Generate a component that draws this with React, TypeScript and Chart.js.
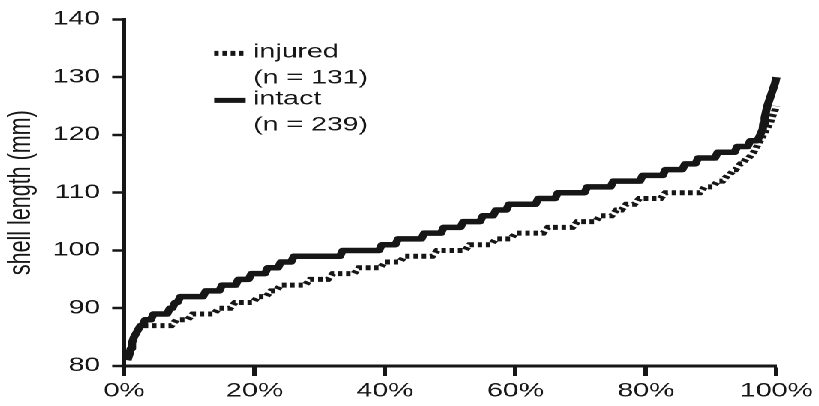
import React, { useEffect, useRef } from 'react';
import { Chart, registerables } from 'chart.js';

Chart.register(...registerables);

// Percentile (x, %) at which each shell length (mm) is first reached
const intactPct = [0.5, 0.8, 1.0, 1.2, 1.5, 2.0, 2.5, 3.2, 4.5, 7.0, 7.8, 8.6, 12.5, 15.0, 17.5, 19.5, 22.0, 24.0, 26.0, 33.5, 39.5, 42.0, 46.0, 49.0, 52.0, 55.0, 57.0, 59.0, 63.5, 66.5, 71.0, 75.0, 79.5, 83.0, 86.0, 88.0, 91.0, 94.0, 96.0, 97.5, 97.9, 98.0, 98.2, 98.4, 98.6, 98.9, 99.2, 99.5, 99.8, 100];
const intactMm = [81, 82, 83, 84, 85, 86, 87, 88, 89, 90, 91, 92, 93, 94, 95, 96, 97, 98, 99, 100, 101, 102, 103, 104, 105, 106, 107, 108, 109, 110, 111, 112, 113, 114, 115, 116, 117, 118, 119, 120, 121, 122, 123, 124, 125, 126, 127, 128, 129, 130];

const injuredPct = [3.0, 8.0, 10.5, 14.5, 17.0, 20.5, 22.5, 24.0, 28.5, 32.0, 36.0, 40.0, 43.0, 48.0, 53.0, 57.0, 60.0, 65.0, 69.5, 73.0, 75.5, 77.0, 79.0, 83.0, 89.0, 91.0, 92.5, 93.5, 94.5, 95.5, 96.5, 97.0, 97.5, 98.0, 98.5, 99.0, 99.3, 99.7, 100];
const injuredMm = [87, 88, 89, 90, 91, 92, 93, 94, 95, 96, 97, 98, 99, 100, 101, 102, 103, 104, 105, 106, 107, 108, 109, 110, 111, 112, 113, 114, 115, 116, 117, 118, 119, 120, 121, 122, 123, 124, 125];

// one specimen's share of the percentile axis (100 / n)
const intactShare = 100 / 239;
const injuredShare = 100 / 131;

const xTickValues = [0, 20, 40, 60, 80, 100];
const yTickValues = [80, 90, 100, 110, 120, 130, 140];

const legendItems = [
  { name: 'injured', count: '(n = 131)', dashed: true },
  { name: 'intact', count: '(n = 239)', dashed: false },
];

const FONT = 'Liberation Sans, Arial, sans-serif';
const INK = '#161616';

// each level stays flat until the specimen just before the next level
function toPoints(pct: number[], mm: number[], share: number) {
  const pts: { x: number; y: number }[] = [];
  pct.forEach((p, i) => {
    if (i > 0) {
      const end = p - share;
      if (end > pct[i - 1]) pts.push({ x: end, y: mm[i - 1] });
    }
    pts.push({ x: p, y: mm[i] });
  });
  return pts;
}

const legendPlugin = {
  id: 'insideLegend',
  afterDraw(chart: any) {
    const { ctx, chartArea } = chart;
    const x0 = chartArea.left + 60;
    const y0 = chartArea.top + 34;
    ctx.save();
    ctx.font = `19px ${FONT}`;
    ctx.textBaseline = 'middle';
    ctx.fillStyle = INK;
    legendItems.forEach((item, i) => {
      const y = y0 + i * 47;
      ctx.beginPath();
      ctx.strokeStyle = INK;
      ctx.lineWidth = 5;
      ctx.lineCap = 'butt';
      ctx.setLineDash(item.dashed ? [3, 2.5] : []);
      ctx.moveTo(x0, y);
      ctx.lineTo(x0 + 21, y);
      ctx.stroke();
      ctx.setLineDash([]);
      ctx.fillText(item.name, x0 + 26, y - 1);
      ctx.fillText(item.count, x0 + 26, y + 25);
    });
    ctx.restore();
  },
};

export default function App() {
  const ref = useRef<HTMLCanvasElement>(null);
  useEffect(() => {
    const chart = new Chart(ref.current as HTMLCanvasElement, {
      type: 'line',
      data: {
        datasets: [
          {
            label: 'intact (n = 239)',
            data: toPoints(intactPct, intactMm, intactShare),
            borderColor: INK,
            borderWidth: 5.5,
            pointRadius: 0,
            fill: false,
            tension: 0,
            borderJoinStyle: 'round',
            clip: false as any,
          },
          {
            label: 'injured (n = 131)',
            data: toPoints(injuredPct, injuredMm, injuredShare),
            borderColor: INK,
            borderWidth: 5,
            borderDash: [3, 2.5],
            pointRadius: 0,
            fill: false,
            tension: 0,
            clip: false as any,
          },
        ],
      },
      options: {
        animation: false,
        responsive: false,
        devicePixelRatio: 2,
        layout: { padding: { top: 19, right: 28, left: 0, bottom: 0 } },
        plugins: { legend: { display: false }, tooltip: { enabled: false } },
        scales: {
          x: {
            type: 'linear',
            min: 0,
            max: 100,
            afterBuildTicks: (s: any) => {
              s.ticks = xTickValues.map((v) => ({ value: v }));
            },
            afterFit: (s: any) => {
              s.height = 40;
            },
            ticks: {
              callback: (v: any) => `${v}%`,
              font: { family: FONT, size: 19 },
              color: INK,
              padding: 4,
              maxRotation: 0,
            },
            grid: { drawOnChartArea: false, tickLength: 10, tickWidth: 3, tickColor: INK },
            border: { color: INK, width: 3 },
          },
          y: {
            min: 80,
            max: 140,
            afterBuildTicks: (s: any) => {
              s.ticks = yTickValues.map((v) => ({ value: v }));
            },
            afterFit: (s: any) => {
              s.width = 82.7;
            },
            ticks: {
              font: { family: FONT, size: 19 },
              color: INK,
              padding: 8,
            },
            grid: { drawOnChartArea: false, tickLength: 8, tickWidth: 2.5, tickColor: INK },
            border: { color: INK, width: 3 },
            title: {
              display: true,
              text: 'shell length (mm)',
              font: { family: FONT, size: 21.5 },
              color: INK,
              padding: { top: 1, bottom: 0 },
            },
          },
        },
      },
      plugins: [legendPlugin],
    });
    return () => chart.destroy();
  }, []);
  return (
    <div
      style={{
        position: 'fixed',
        left: 0,
        top: 0,
        width: 546,
        height: 406,
        transform: 'scaleX(1.5)',
        transformOrigin: '0 0',
        background: '#fff',
      }}
    >
      <canvas ref={ref} width={546} height={406} style={{ width: 546, height: 406 }} />
    </div>
  );
}
